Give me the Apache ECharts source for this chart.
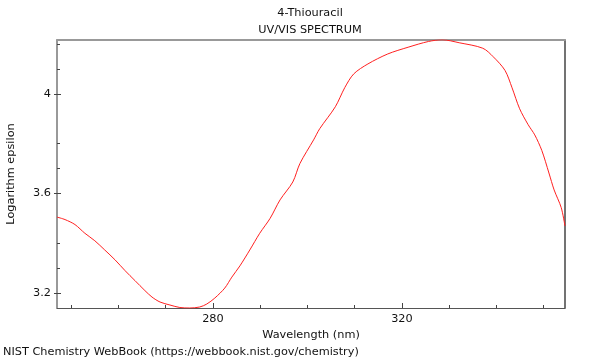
<!DOCTYPE html>
<html>
<head>
<meta charset="utf-8">
<script src="https://cdn.jsdelivr.net/npm/echarts@6/dist/echarts.min.js"></script>
<style>html,body{margin:0;padding:0;background:#fff}#c{width:600px;height:360px}</style>
</head>
<body>
<div id="c"></div>
<script>
const wavelength = [247.0,248.7,250.8,252.9,255.0,257.1,259.3,261.4,263.5,265.6,267.1,268.8,270.9,273.0,275.1,277.2,278.7,280.4,282.5,284.0,285.7,287.8,289.9,292.1,294.2,296.9,298.4,301.3,302.6,305.9,307.9,309.8,312.8,317.0,321.3,325.6,328.5,332.1,337.1,339.3,341.8,343.3,344.9,346.7,348.1,349.6,351.1,352.2,353.7,354.5];
const logEpsilon = [3.505,3.495,3.475,3.44,3.41,3.373,3.333,3.29,3.25,3.21,3.184,3.164,3.152,3.142,3.14,3.144,3.156,3.18,3.22,3.264,3.309,3.373,3.44,3.50,3.574,3.646,3.72,3.815,3.86,3.948,4.025,4.08,4.12,4.16,4.187,4.21,4.217,4.205,4.183,4.149,4.094,4.024,3.94,3.876,3.835,3.772,3.682,3.614,3.543,3.469];
const xMinorTicks = [250,260,270,280,290,300,310,320,330,340,350];
const xMajorTicks = [280,320];
const yMajorTicks = [3.2,3.6,4.0];
const yMinorTicks = [3.3,3.4,3.7,3.8,4.1,4.2];
const titleText = '4-Thiouracil';
const subtitleText = 'UV/VIS SPECTRUM';
const xName = 'Wavelength (nm)';
const yName = 'Logarithm epsilon';
const footer = 'NIST Chemistry WebBook (https://webbook.nist.gov/chemistry)';

const X_MIN = 247, X_MAX = 354.5, Y_MIN = 3.14, Y_MAX = 4.216;
const FONT = 'DejaVu Sans';
const FS = 11.3;
const chart = echarts.init(document.getElementById('c'));
const pts = wavelength.map((w, i) => [w, logEpsilon[i]]);
const txt = (t, x, y, align) => ({type: 'text', x: x, y: y, silent: true,
  style: {text: t, font: FS + 'px "DejaVu Sans"', fill: '#111', align: align, verticalAlign: 'middle'}});
chart.setOption({
  animation: false,
  grid: {left: 57, right: 35, top: 40, bottom: 52, containLabel: false, outerBoundsMode: 'none'},
  xAxis: [
    {type: 'value', min: X_MIN, max: X_MAX, position: 'bottom',
     name: xName, nameLocation: 'middle', nameGap: 19,
     nameTextStyle: {fontFamily: FONT, fontSize: FS, color: '#111'},
     axisLine: {show: true, lineStyle: {color: '#555', width: 1}},
     axisTick: {show: true, inside: true, length: 3, customValues: xMinorTicks, lineStyle: {color: '#444'}},
     axisLabel: {show: true, customValues: xMajorTicks, margin: 6, fontFamily: FONT, fontSize: FS, color: '#111'},
     splitLine: {show: false}},
    {type: 'value', min: X_MIN, max: X_MAX, position: 'bottom',
     axisLine: {show: false},
     axisTick: {show: true, inside: true, length: 5, customValues: xMajorTicks, lineStyle: {color: '#444'}},
     axisLabel: {show: false}, splitLine: {show: false}},
    {type: 'value', min: X_MIN, max: X_MAX, position: 'top',
     axisLine: {show: true, lineStyle: {color: '#999', width: 2}},
     axisTick: {show: false}, axisLabel: {show: false}, splitLine: {show: false}}
  ],
  yAxis: [
    {type: 'value', min: Y_MIN, max: Y_MAX, position: 'left',
     name: yName, nameLocation: 'middle', nameGap: 40,
     nameTextStyle: {fontFamily: FONT, fontSize: FS, color: '#111'},
     axisLine: {show: true, lineStyle: {color: '#777', width: 1.5}},
     axisTick: {show: true, inside: false, length: 3, customValues: yMajorTicks, lineStyle: {color: '#444'}},
     axisLabel: {show: true, customValues: yMajorTicks, margin: 6, fontFamily: FONT, fontSize: FS, color: '#111',
       formatter: v => String(Math.round(v * 10) / 10)},
     splitLine: {show: false}},
    {type: 'value', min: Y_MIN, max: Y_MAX, position: 'left',
     axisLine: {show: false},
     axisTick: {show: true, inside: true, length: 3, customValues: yMinorTicks, lineStyle: {color: '#444'}},
     axisLabel: {show: false}, splitLine: {show: false}},
    {type: 'value', min: Y_MIN, max: Y_MAX, position: 'left',
     axisLine: {show: false},
     axisTick: {show: true, inside: true, length: 4, customValues: yMajorTicks, lineStyle: {color: '#444'}},
     axisLabel: {show: false}, splitLine: {show: false}},
    {type: 'value', min: Y_MIN, max: Y_MAX, position: 'right',
     axisLine: {show: true, lineStyle: {color: '#444', width: 1.5}},
     axisTick: {show: false}, axisLabel: {show: false}, splitLine: {show: false}}
  ],
  graphic: [
    txt(titleText, 310, 13, 'center'),
    txt(subtitleText, 310, 30, 'center'),
    txt(footer, 3, 352, 'left')
  ],
  series: [
    {type: 'line', xAxisIndex: 0, yAxisIndex: 0, data: pts, showSymbol: false, smooth: 0.3,
     lineStyle: {color: '#ff2020', width: 1}}
  ]
});
</script>
</body>
</html>
